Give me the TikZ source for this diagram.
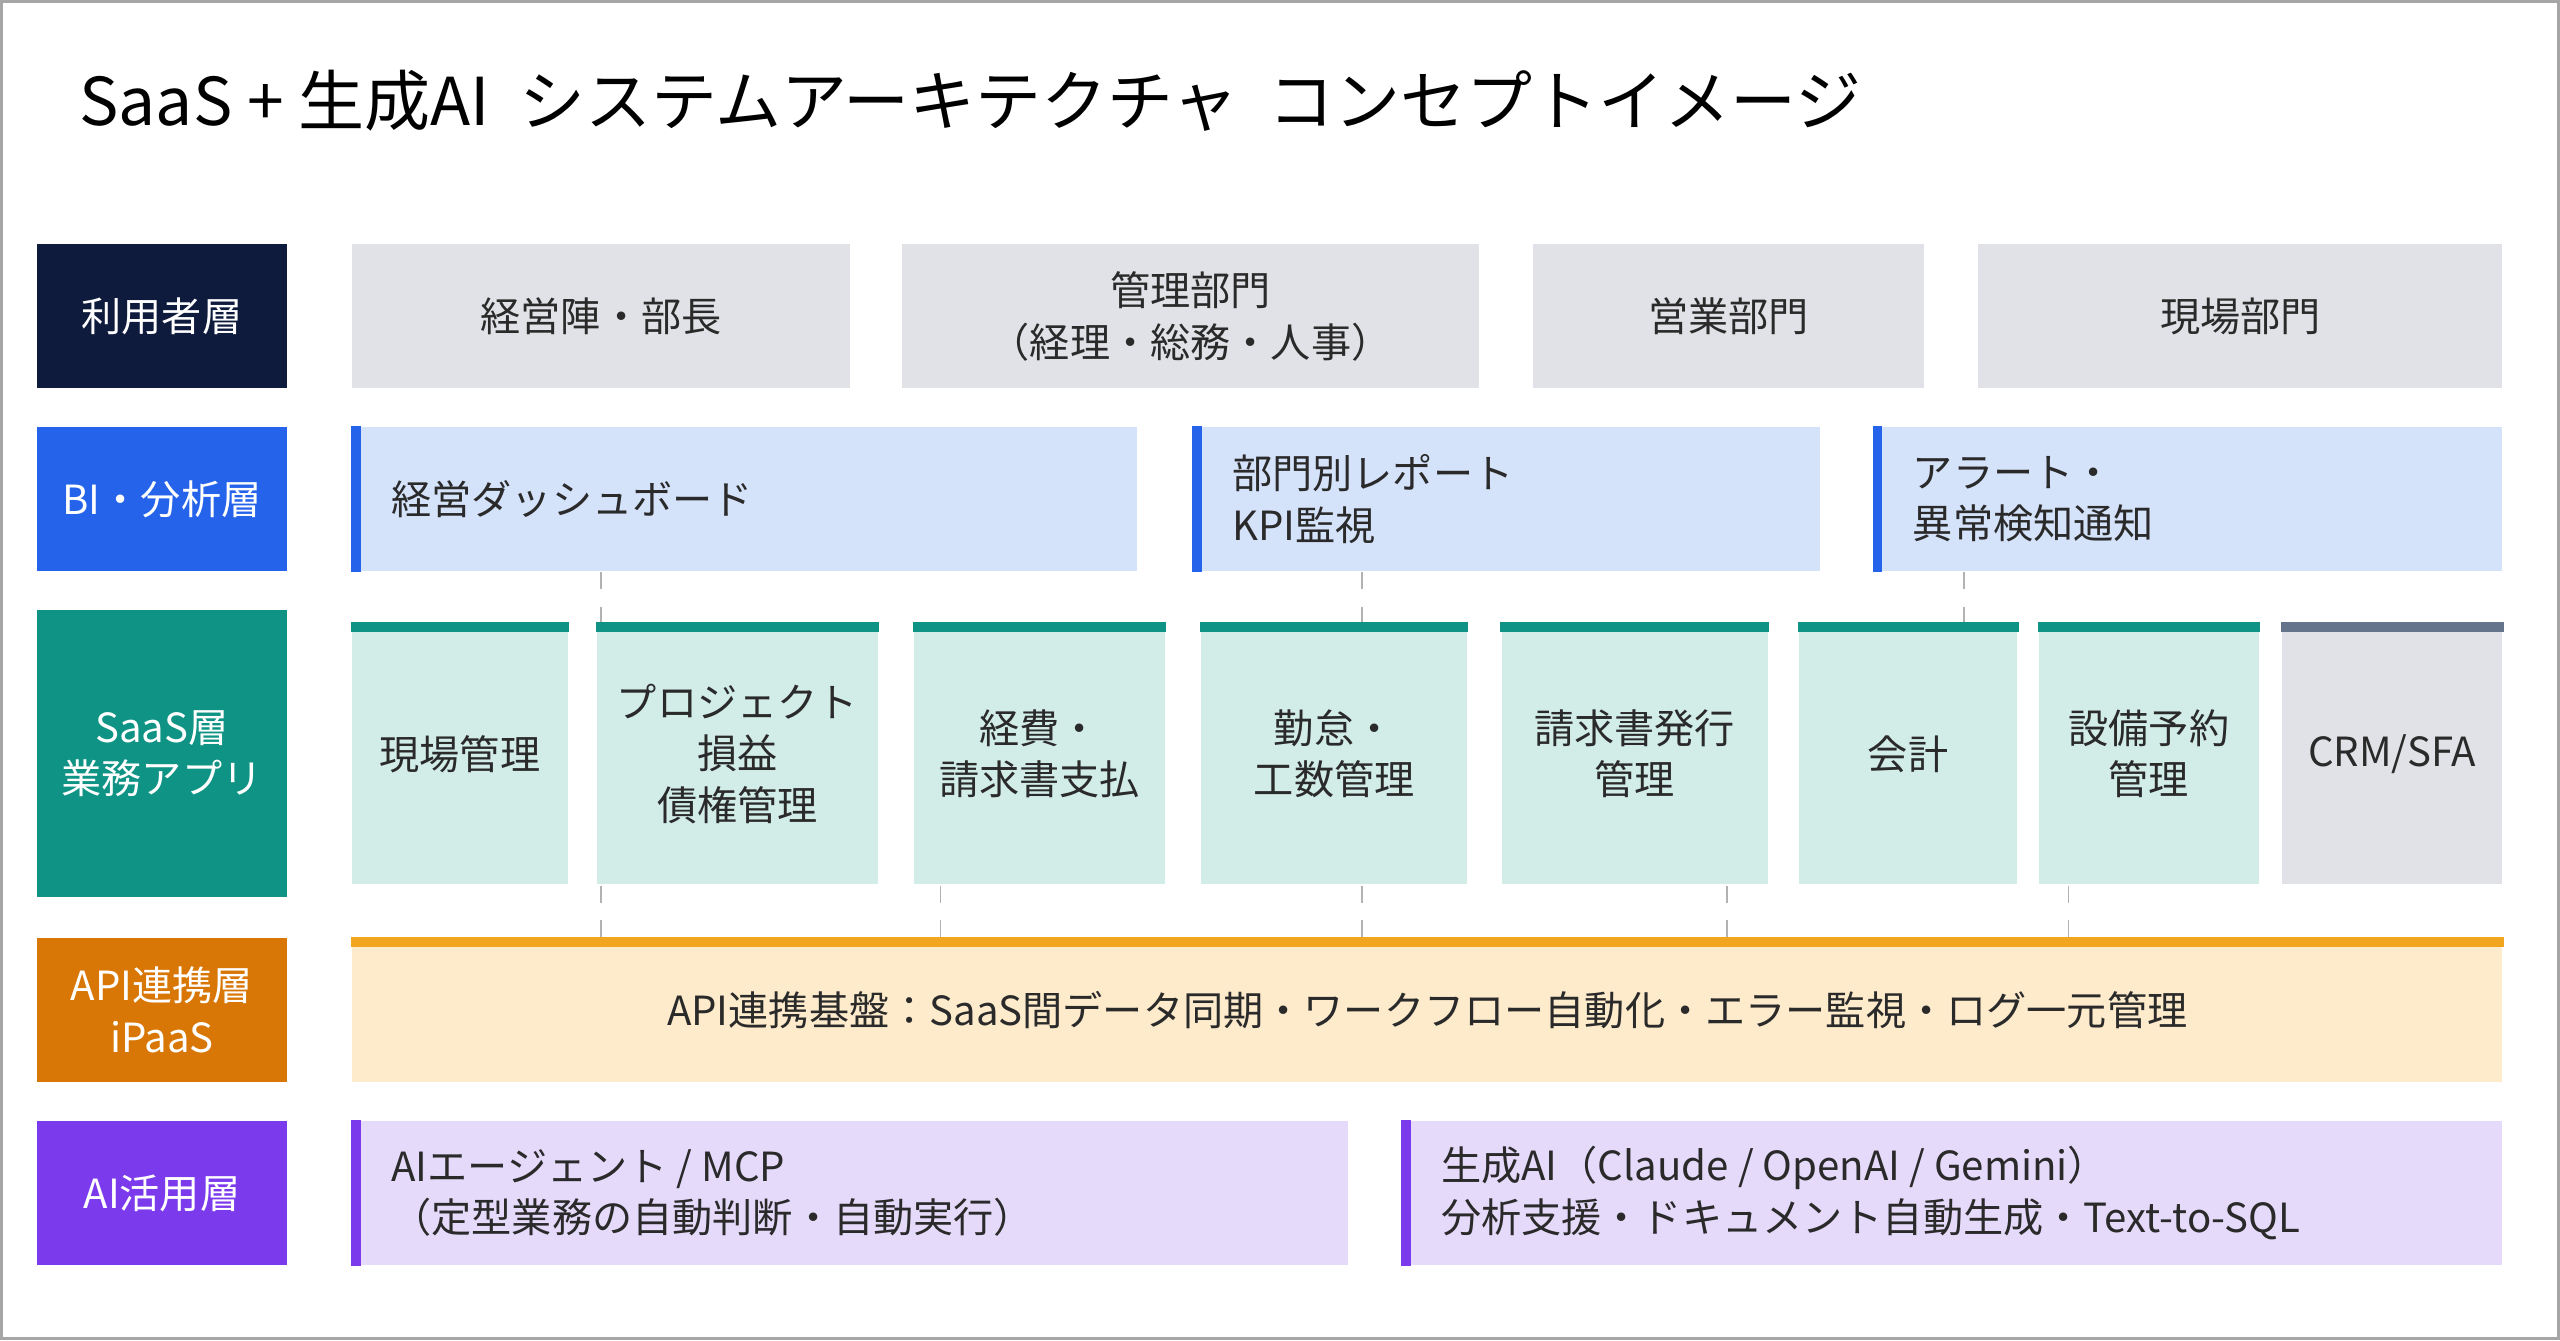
\documentclass[tikz,border=0pt]{standalone}
\usepackage{fontspec}
\setmainfont{Noto Sans CJK JP}
\usetikzlibrary{positioning}
\definecolor{cNavy}{HTML}{0F1B3D}
\definecolor{cBlue}{HTML}{2563EB}
\definecolor{cTeal}{HTML}{0E9384}
\definecolor{cOrange}{HTML}{D97706}
\definecolor{cPurple}{HTML}{7C3AED}
\definecolor{cGray}{HTML}{E1E2E7}
\definecolor{cBlueL}{HTML}{D4E2FA}
\definecolor{cTealL}{HTML}{D2ECE8}
\definecolor{cOrangeL}{HTML}{FDEBCC}
\definecolor{cOrangeB}{HTML}{F2A51F}
\definecolor{cPurpleL}{HTML}{E6DAFA}
\definecolor{cSlate}{HTML}{64748B}
\definecolor{cText}{HTML}{2A2A2A}
\tikzset{
  box/.style={anchor=north west, inner sep=0pt, align=center, font=\fontsize{7pt}{9pt}\selectfont, text=cText},
  layer/.style={box, minimum width=15.3mm, minimum height=8.8mm, text=white},
  txt/.style={anchor=west, inner sep=0pt, align=left, font=\fontsize{7pt}{9pt}\selectfont, text=cText},
  link/.style={gray!60, dashed, line width=0.3pt}
}
\begin{document}
\begin{tikzpicture}[x=0.1mm,y=-0.1mm]
\useasboundingbox (0,0) rectangle (1568,821);
\draw[gray!70, line width=0.5pt] (1,1) rectangle (1567,820);
\node[anchor=west, inner sep=0pt, font=\fontsize{11.5pt}{14pt}\selectfont, text=black] (title) at (48,62) {SaaS + 生成AI\ \ システムアーキテクチャ\ \ コンセプトイメージ};

% layer labels
\node[layer, fill=cNavy] (l1) at (22,149) {利用者層};
\node[layer, fill=cBlue] (l2) at (22,261) {BI・分析層};
\node[layer, fill=cTeal, minimum height=17.6mm] (l3) at (22,373) {SaaS層\\業務アプリ};
\node[layer, fill=cOrange] (l4) at (22,574) {API連携層\\iPaaS};
\node[layer, fill=cPurple] (l5) at (22,686) {AI活用層};

% users
\node[box, fill=cGray, minimum width=30.5mm, minimum height=8.8mm] (u1) at (215,149) {経営陣・部長};
\node[box, fill=cGray, minimum width=35.3mm, minimum height=8.8mm] (u2) at (552,149) {管理部門\\（経理・総務・人事）};
\node[box, fill=cGray, minimum width=24mm, minimum height=8.8mm] (u3) at (938,149) {営業部門};
\node[box, fill=cGray, minimum width=32.1mm, minimum height=8.8mm] (u4) at (1211,149) {現場部門};

% BI
\node[box, fill=cBlueL, minimum width=48.1mm, minimum height=8.8mm] (b1) at (215,261) {};
\node[box, fill=cBlueL, minimum width=38.4mm, minimum height=8.8mm] (b2) at (730,261) {};
\node[box, fill=cBlueL, minimum width=38.5mm, minimum height=8.8mm] (b3) at (1147,261) {};
\foreach \b in {b1,b2,b3}
  \fill[cBlue] (\b.north west) rectangle ([xshift=0.6mm]\b.south west);
\node[txt, right=2.4mm of b1.west] (b1t) {経営ダッシュボード};
\node[txt, right=2.4mm of b2.west] (b2t) {部門別レポート\\KPI監視};
\node[txt, right=2.4mm of b3.west] (b3t) {アラート・\\異常検知通知};

% SaaS apps
\node[box, fill=cTealL, minimum width=13.2mm, minimum height=16mm] (s1) at (215,381) {現場管理};
\node[box, fill=cTealL, minimum width=17.2mm, minimum height=16mm] (s2) at (365,381) {プロジェクト\\損益\\債権管理};
\node[box, fill=cTealL, minimum width=15.4mm, minimum height=16mm] (s3) at (559,381) {経費・\\請求書支払};
\node[box, fill=cTealL, minimum width=16.3mm, minimum height=16mm] (s4) at (735,381) {勤怠・\\工数管理};
\node[box, fill=cTealL, minimum width=16.3mm, minimum height=16mm] (s5) at (919,381) {請求書発行\\管理};
\node[box, fill=cTealL, minimum width=13.4mm, minimum height=16mm] (s6) at (1101,381) {会計};
\node[box, fill=cTealL, minimum width=13.5mm, minimum height=16mm] (s7) at (1248,381) {設備予約\\管理};
\node[box, fill=cGray, minimum width=13.5mm, minimum height=16mm] (s8) at (1397,381) {CRM/SFA};
\foreach \s in {s1,s2,s3,s4,s5,s6,s7}
  \fill[cTeal] (\s.north west) rectangle ([yshift=-0.6mm]\s.north east);
\fill[cSlate] (s8.north west) rectangle ([yshift=-0.6mm]s8.north east);

% API
\node[box, fill=cOrangeL, minimum width=131.7mm, minimum height=8.8mm] (api) at (215,574) {API連携基盤：SaaS間データ同期・ワークフロー自動化・エラー監視・ログ一元管理};
\fill[cOrangeB] (api.north west) rectangle ([yshift=-0.6mm]api.north east);

% AI
\node[box, fill=cPurpleL, minimum width=61mm, minimum height=8.8mm] (a1) at (215,686) {};
\node[box, fill=cPurpleL, minimum width=67.4mm, minimum height=8.8mm] (a2) at (858,686) {};
\foreach \a in {a1,a2}
  \fill[cPurple] (\a.north west) rectangle ([xshift=0.6mm]\a.south west);
\node[txt, right=2.4mm of a1.west] (a1t) {AIエージェント / MCP\\（定型業務の自動判断・自動実行）};
\node[txt, right=2.4mm of a2.west] (a2t) {生成AI（Claude / OpenAI / Gemini）\\分析支援・ドキュメント自動生成・Text-to-SQL};

% links
\draw[link] (b1.south -| 368,0) -- (s2.north -| 368,0);
\draw[link] (b2.south -| 834,0) -- (s4.north -| 834,0);
\draw[link] (b3.south -| 1203,0) -- (s6.north -| 1203,0);
\draw[link] (s2.south -| 368,0) -- (api.north -| 368,0);
\draw[link] (s3.south -| 576,0) -- (api.north -| 576,0);
\draw[link] (s4.south -| 834,0) -- (api.north -| 834,0);
\draw[link] (s5.south -| 1058,0) -- (api.north -| 1058,0);
\draw[link] (s7.south -| 1267,0) -- (api.north -| 1267,0);
\end{tikzpicture}
\end{document}
